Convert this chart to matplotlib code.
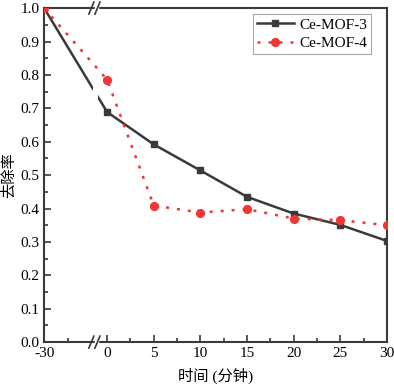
import numpy as np
import matplotlib
matplotlib.use("Agg")
import matplotlib.pyplot as plt
from matplotlib.ticker import FixedLocator, MultipleLocator
import matplotlib.transforms as mtransforms

plt.rcParams['font.family'] = ['Liberation Serif', 'Noto Sans CJK SC']
plt.rcParams['axes.unicode_minus'] = False

# 数据
t = [-30, 0, 5, 10, 15, 20, 25, 30]
mof3 = [1.0, 0.689, 0.592, 0.514, 0.435, 0.385, 0.351, 0.303]
mof4 = [1.0, 0.786, 0.409, 0.388, 0.398, 0.370, 0.365, 0.350]
xticks = [-30, 0, 5, 10, 15, 20, 25, 30]
xticklabels = ['-30', '0', '5', '10', '15', '20', '25', '30']
xminor = [-18.75, 2.5, 7.5, 12.5, 17.5, 22.5, 27.5]

# 断轴区域 (负半轴压缩)
k = 0.225
brk_lo, brk_hi = -6.8, -4.1

def fwd(x):
    x = np.asarray(x, dtype=float)
    return np.where(x < 0, x * k, x)

def inv(y):
    y = np.asarray(y, dtype=float)
    return np.where(y < 0, y / k, y)

fig = plt.figure(figsize=(3.94, 3.87), dpi=100)
ax = fig.add_axes([0.112, 0.116, 0.870, 0.863])
ax.set_xscale('function', functions=(fwd, inv))

black = '#3a3a3a'
red = '#f03535'
ax.plot(t, mof3, color=black, lw=1.8, marker='s', ms=4.6, label='Ce-MOF-3', zorder=2)
ax.axvspan(brk_lo, brk_hi, color='white', lw=0, zorder=2.2)
ax.plot(t, mof4, color=red, lw=1.8, ls=(0, (1.2, 3.2)), marker='o', ms=5.6,
        label='Ce-MOF-4', zorder=3)

ax.set_xlim(-30, 30)
ax.set_ylim(0, 1.0)
ax.xaxis.set_major_locator(FixedLocator(xticks))
ax.set_xticklabels(xticklabels)
ax.xaxis.set_minor_locator(FixedLocator(xminor))
ax.yaxis.set_major_locator(MultipleLocator(0.1))
ax.yaxis.set_minor_locator(MultipleLocator(0.05))
ax.yaxis.set_major_formatter(plt.FuncFormatter(lambda v, p: f'{v:.1f}'))

ax.tick_params(which='both', direction='in', top=False, right=False,
               colors=black, labelcolor='black', labelsize=11, width=1.2)
ax.tick_params(which='major', length=5)
ax.tick_params(which='minor', length=3)
for s in ax.spines.values():
    s.set_color(black)
    s.set_linewidth(1.5)

# 断轴标记
trans = mtransforms.blended_transform_factory(ax.transData, ax.transAxes)
for yy in (0, 1):
    ax.plot([-5.3, -4.9], [yy, yy], transform=trans, color='white', lw=2.5,
            clip_on=False, zorder=5)
    for dx in (-7.5, -4.6):
        ax.plot([dx - 1.2, dx + 1.2], [yy - 0.018, yy + 0.018], transform=trans,
                color=black, lw=1.2, clip_on=False, zorder=6)

ax.set_xlabel('时间 (分钟)', fontsize=11, labelpad=6)
ax.set_ylabel('去除率', fontsize=11, labelpad=3)

leg = ax.legend(loc='upper right', bbox_to_anchor=(0.955, 0.982), fontsize=11,
                frameon=True, fancybox=False, edgecolor='#909090',
                handlelength=2.4, borderaxespad=0.0,
                borderpad=0.25, labelspacing=0.3, handletextpad=0.4)
leg.get_frame().set_linewidth(0.8)

fig.savefig('out.png', dpi=100)
